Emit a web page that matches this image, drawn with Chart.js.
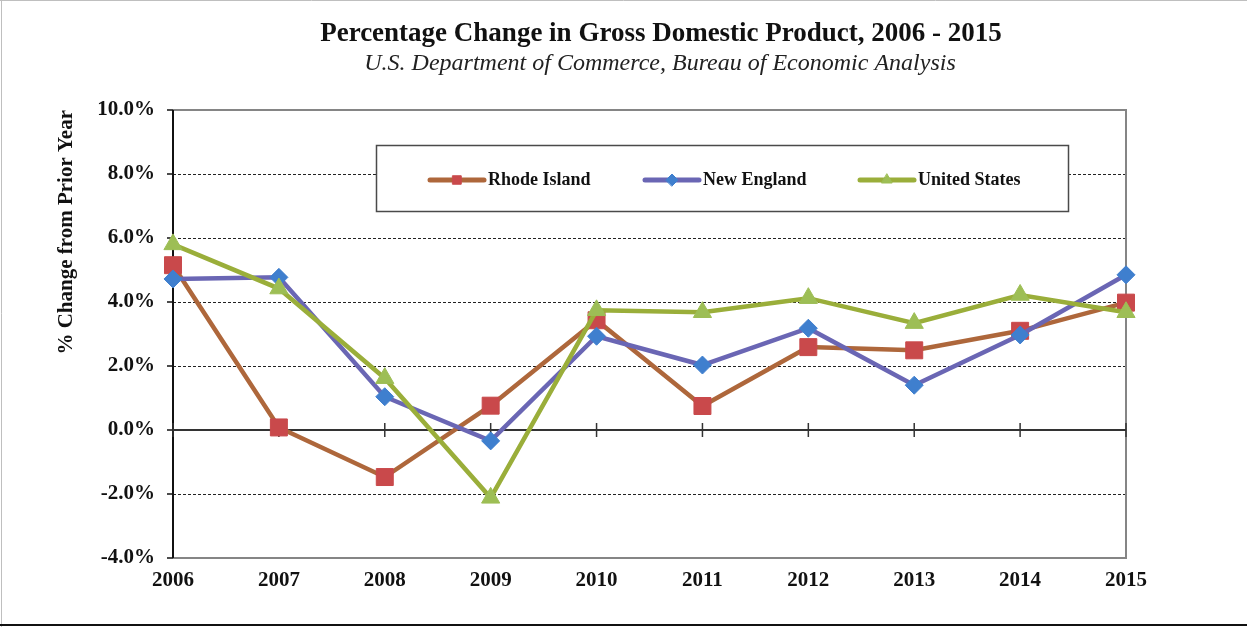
<!DOCTYPE html>
<html>
<head>
<meta charset="utf-8">
<script src="https://cdn.jsdelivr.net/npm/chart.js@4/dist/chart.umd.min.js"></script>
<style>
  html, body { margin: 0; padding: 0; background: #ffffff; }
  #wrap { position: relative; width: 1247px; height: 627px; }
</style>
</head>
<body>
<div id="wrap"><canvas id="c" width="1247" height="627"></canvas></div>
<script>
const chartTitle = 'Percentage Change in Gross Domestic Product, 2006 - 2015';
const chartSubtitle = 'U.S. Department of Commerce, Bureau of Economic Analysis';
const yAxisTitle = '% Change from Prior Year';
const years = ['2006', '2007', '2008', '2009', '2010', '2011', '2012', '2013', '2014', '2015'];
const seriesNames = ['Rhode Island', 'New England', 'United States'];
const rhodeIsland = [5.15, 0.08, -1.47, 0.76, 3.43, 0.75, 2.59, 2.49, 3.10, 3.98];
const newEngland = [4.72, 4.77, 1.04, -0.34, 2.93, 2.03, 3.18, 1.40, 2.97, 4.85];
const unitedStates = [5.80, 4.42, 1.62, -2.12, 3.74, 3.68, 4.12, 3.34, 4.22, 3.68];
const yMin = -4, yMax = 10, yStep = 2;

const SERIF = '"Liberation Serif", "Times New Roman", serif';

const decorPlugin = {
  id: 'decor',
  beforeDatasetsDraw(chart) {
    const ctx = chart.ctx;
    const ca = chart.chartArea;
    const y = chart.scales.y, x = chart.scales.x;
    ctx.save();
    y.ticks.forEach(t => {
      const py = Math.round(y.getPixelForValue(t.value)) + 0.5;
      if (t.value === yMin || t.value === yMax || t.value === 0) return;
      ctx.strokeStyle = '#222222';
      ctx.lineWidth = 1;
      ctx.setLineDash([3, 2]);
      ctx.beginPath(); ctx.moveTo(ca.left, py); ctx.lineTo(ca.right, py); ctx.stroke();
    });
    ctx.setLineDash([]);
    ctx.strokeStyle = '#858585';
    ctx.lineWidth = 2;
    ctx.beginPath();
    ctx.moveTo(ca.left, ca.top); ctx.lineTo(ca.right, ca.top);
    ctx.lineTo(ca.right, ca.bottom); ctx.lineTo(ca.left, ca.bottom);
    ctx.stroke();
    ctx.strokeStyle = '#111111';
    ctx.lineWidth = 2;
    ctx.beginPath(); ctx.moveTo(ca.left, ca.top); ctx.lineTo(ca.left, ca.bottom); ctx.stroke();
    ctx.lineWidth = 1.5;
    y.ticks.forEach(t => {
      const py = y.getPixelForValue(t.value);
      ctx.beginPath(); ctx.moveTo(ca.left - 6, py); ctx.lineTo(ca.left, py); ctx.stroke();
    });
    const zy = y.getPixelForValue(0);
    ctx.strokeStyle = '#333333';
    ctx.lineWidth = 2;
    ctx.beginPath(); ctx.moveTo(ca.left, zy); ctx.lineTo(ca.right, zy); ctx.stroke();
    ctx.lineWidth = 1.5;
    years.forEach((yr, i) => {
      const px = x.getPixelForValue(i);
      ctx.beginPath(); ctx.moveTo(px, zy - 7); ctx.lineTo(px, zy + 7); ctx.stroke();
    });
    ctx.restore();
  },
  afterDraw(chart) {
    const ctx = chart.ctx;
    ctx.save();
    ctx.fillStyle = '#111111';
    ctx.textAlign = 'center';
    ctx.textBaseline = 'middle';
    ctx.font = 'bold 27px ' + SERIF;
    ctx.fillText(chartTitle, 661, 34);
    ctx.font = 'italic 24px ' + SERIF;
    ctx.fillStyle = '#222222';
    ctx.fillText(chartSubtitle, 660, 64);
    // legend box
    ctx.fillStyle = '#ffffff';
    ctx.fillRect(376, 145, 692, 66);
    ctx.strokeStyle = '#4a4a4a';
    ctx.lineWidth = 1.5;
    ctx.strokeRect(376.5, 145.5, 692, 66);
    const itemX = [430, 645, 860];
    const ly = 180;
    chart.data.datasets.forEach((ds, i) => {
      const x0 = itemX[i];
      ctx.strokeStyle = ds.borderColor;
      ctx.lineWidth = 5;
      ctx.lineCap = 'round';
      ctx.beginPath(); ctx.moveTo(x0, ly); ctx.lineTo(x0 + 54, ly); ctx.stroke();
      ctx.fillStyle = ds.pointBackgroundColor;
      ctx.strokeStyle = ds.pointBorderColor;
      ctx.lineWidth = 1;
      Chart.helpers.drawPoint(ctx, { pointStyle: ds.pointStyle, radius: 6, borderWidth: 1, rotation: 0 }, x0 + 27, ly);
      ctx.fillStyle = '#111111';
      ctx.textAlign = 'left';
      ctx.textBaseline = 'middle';
      ctx.font = 'bold 18px ' + SERIF;
      ctx.fillText(ds.label, x0 + 58, ly);
    });
    ctx.strokeStyle = '#bfbfbf';
    ctx.lineWidth = 1;
    ctx.beginPath(); ctx.moveTo(0, 0.5); ctx.lineTo(1247, 0.5); ctx.stroke();
    ctx.beginPath(); ctx.moveTo(1.5, 0); ctx.lineTo(1.5, 627); ctx.stroke();
    ctx.strokeStyle = '#111111';
    ctx.lineWidth = 2;
    ctx.beginPath(); ctx.moveTo(0, 625); ctx.lineTo(1247, 625); ctx.stroke();
    ctx.restore();
  }
};

new Chart(document.getElementById('c'), {
  type: 'line',
  data: {
    labels: years,
    datasets: [
      {
        label: seriesNames[0], data: rhodeIsland,
        borderColor: '#AE673B', borderWidth: 4.5,
        pointStyle: 'rect', pointRadius: 12, pointHoverRadius: 12,
        pointBackgroundColor: '#C9494B', pointBorderColor: '#C9494B', pointBorderWidth: 1,
        tension: 0, order: 2
      },
      {
        label: seriesNames[1], data: newEngland,
        borderColor: '#6A66B4', borderWidth: 4.5,
        pointStyle: 'rectRot', pointRadius: 9, pointHoverRadius: 9,
        pointBackgroundColor: '#3F7FCE', pointBorderColor: '#3F7FCE', pointBorderWidth: 1,
        tension: 0, order: 1
      },
      {
        label: seriesNames[2], data: unitedStates,
        borderColor: '#9AAE3A', borderWidth: 4.5,
        pointStyle: 'triangle', pointRadius: 10.5, pointHoverRadius: 10.5,
        pointBackgroundColor: '#9DBE55', pointBorderColor: '#9DBE55', pointBorderWidth: 1,
        tension: 0, order: 0
      }
    ]
  },
  options: {
    responsive: false,
    animation: false,
    devicePixelRatio: 1,
    layout: { padding: { left: 0, top: 110, right: 121, bottom: 0 } },
    plugins: {
      legend: { display: false },
      title: { display: false },
      tooltip: { enabled: false }
    },
    scales: {
      x: {
        type: 'category',
        offset: false,
        grid: { display: false, drawTicks: false },
        border: { display: false },
        ticks: {
          autoSkip: false, maxRotation: 0, padding: 10,
          color: '#111111',
          font: { family: SERIF, size: 21, weight: 'bold' }
        },
        afterFit(scale) { scale.height = 69; }
      },
      y: {
        min: yMin, max: yMax,
        grid: { display: false, drawTicks: false },
        border: { display: false },
        ticks: {
          stepSize: yStep, padding: 18,
          color: '#111111',
          font: { family: SERIF, size: 21, weight: 'bold' },
          callback: v => v.toFixed(1) + '%'
        },
        title: {
          display: true, text: yAxisTitle, align: 'end',
          color: '#111111',
          font: { family: SERIF, size: 21, weight: 'bold' },
          padding: { top: 54, bottom: 0 }
        },
        afterFit(scale) { scale.width = 173; }
      }
    }
  },
  plugins: [decorPlugin]
});
</script>
</body>
</html>
